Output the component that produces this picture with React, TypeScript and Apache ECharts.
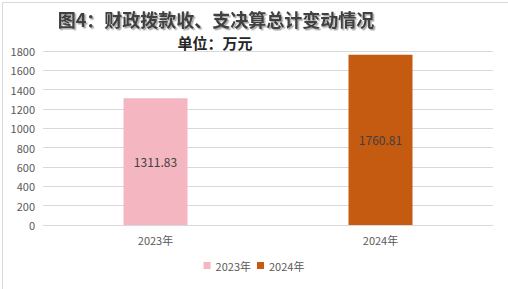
import React, { useEffect, useRef } from "react";
import * as echarts from "echarts";

const categories = ["2023年", "2024年"];
const seriesNames = ["2023年", "2024年"];
const values = [1311.83, 1760.81];
const colors = ["#F4B6C0", "#C55A11"];
const titleText = "图4：财政拨款收、支决算总计变动情况";
const unitText = "单位：万元";

export default function App() {
  const ref = useRef<HTMLDivElement>(null);
  useEffect(() => {
    document.body.style.margin = "0";
    const chart = echarts.init(ref.current!, null, { renderer: "svg" });
    const font = "'Microsoft YaHei', 'Noto Sans CJK SC', 'Noto Sans', sans-serif";
    chart.setOption({
      animation: false,
      backgroundColor: "#ffffff",
      textStyle: { fontFamily: font },
      graphic: [
        {
          type: "rect",
          left: 0,
          top: 0,
          shape: { x: 0.5, y: 0.5, width: 507, height: 288 },
          style: { fill: "none", stroke: "#d9d9d9", lineWidth: 1 },
          silent: true,
        },
        {
          type: "text",
          x: 216,
          y: 19,
          style: {
            text: titleText,
            font: "bold 18px 'Noto Sans CJK SC', sans-serif",
            fill: "#404040",
            align: "center",
            verticalAlign: "middle",
            lineHeight: 18,
            textShadowColor: "rgba(0,0,0,0.35)",
            textShadowOffsetX: 1.5,
            textShadowOffsetY: 1.5,
            textShadowBlur: 1,
          },
        },
        {
          type: "text",
          x: 215,
          y: 42,
          style: {
            text: unitText,
            font: "bold 15px 'Noto Sans CJK SC', sans-serif",
            fill: "#262626",
            align: "center",
            verticalAlign: "middle",
            lineHeight: 15,
          },
        },
      ],
      legend: {
        data: seriesNames,
        bottom: 13,
        left: "center",
        itemWidth: 7,
        itemHeight: 7,
        itemGap: 6,
        icon: "rect",
        textStyle: { fontSize: 11, color: "#595959", fontFamily: font },
      },
      grid: { left: 43, right: 15, top: 51, bottom: 64, containLabel: false },
      xAxis: {
        type: "category",
        data: categories,
        axisLine: { lineStyle: { color: "#d9d9d9" } },
        axisTick: { show: false },
        axisLabel: { fontSize: 11, color: "#595959", margin: 9 },
      },
      yAxis: {
        type: "value",
        min: 0,
        max: 1800,
        interval: 200,
        axisLine: { show: false },
        axisTick: { show: false },
        splitLine: { lineStyle: { color: "#d9d9d9" } },
        axisLabel: {
          fontSize: 11,
          color: "#595959",
          margin: 8,
          formatter: (v: number) => String(v),
        },
      },
      series: seriesNames.map((name, i) => ({
        name,
        type: "bar",
        stack: "total",
        barWidth: 64,
        data: values.map((v, j) => (j === i ? v : "-")),
        itemStyle: { color: colors[i] },
        label: {
          show: true,
          position: "inside",
          fontSize: 12,
          color: "#404040",
          formatter: (p: any) => p.value.toFixed(2),
        },
      })),
    });
    return () => chart.dispose();
  }, []);
  return (
    <div
      ref={ref}
      style={{ position: "fixed", left: 0, top: 0, width: 508, height: 289 }}
    />
  );
}
